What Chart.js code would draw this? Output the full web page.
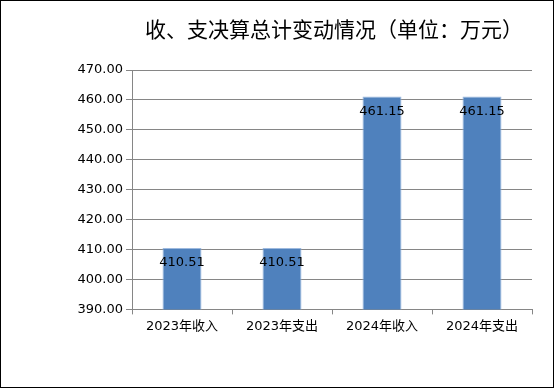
<!DOCTYPE html>
<html>
<head>
<meta charset="utf-8">
<script src="https://cdn.jsdelivr.net/npm/chart.js@4"></script>
<style>
  html, body { margin: 0; padding: 0; background: #fff; }
  #box { width: 552px; height: 386px; border: 1px solid #000; position: relative; }
  canvas { display: block; }
</style>
</head>
<body>
<div id="box"><canvas id="chart" width="552" height="386"></canvas></div>
<script>
const title = '收、支决算总计变动情况（单位：万元）';
const labels = ['2023年收入', '2023年支出', '2024年收入', '2024年支出'];
const amounts = [410.51, 410.51, 461.15, 461.15];
const yTicks = [390, 400, 410, 420, 430, 440, 450, 460, 470];

// 标题 + 柱内数值标签
const extras = {
  id: 'extras',
  afterDraw(chart) {
    const ctx = chart.ctx;
    ctx.save();
    ctx.font = '21px "Noto Sans CJK SC"';
    ctx.fillStyle = '#000';
    ctx.textAlign = 'center';
    ctx.textBaseline = 'middle';
    ctx.fillText(title, 333, 28);
    ctx.restore();
  },
  afterDatasetsDraw(chart) {
    const ctx = chart.ctx;
    const meta = chart.getDatasetMeta(0);
    ctx.save();
    ctx.font = '13px "DejaVu Sans", sans-serif';
    ctx.fillStyle = '#000';
    ctx.textAlign = 'center';
    ctx.textBaseline = 'middle';
    meta.data.forEach((bar, i) => {
      ctx.fillText(amounts[i].toFixed(2), bar.x, bar.y + 15);
    });
    ctx.restore();
  }
};

new Chart(document.getElementById('chart'), {
  type: 'bar',
  data: {
    labels: labels,
    datasets: [
      {
        data: amounts,
        backgroundColor: '#4F81BD',
        borderColor: '#9DB9DE',
        borderWidth: 1,
        categoryPercentage: 1,
        barPercentage: 0.39,
      },
    ],
  },
  options: {
    responsive: false,
    animation: false,
    layout: { padding: { left: 0, right: 21, top: 69, bottom: 49 } },
    plugins: {
      legend: { display: false },
      tooltip: { enabled: false },
      title: { display: false },
    },
    scales: {
      x: {
        grid: { display: true, drawOnChartArea: false, drawTicks: true, tickLength: 5, color: '#868686', offset: true },
        border: { color: '#868686' },
        ticks: { color: '#000', font: { family: '"DejaVu Sans", "Noto Sans CJK SC"', size: 13 }, padding: 4 },
      },
      y: {
        min: 390,
        max: 470,
        afterBuildTicks: (scale) => { scale.ticks = yTicks.map((v) => ({ value: v })); },
        afterFit: (scale) => { scale.width = 131; },
        grid: { color: '#868686', tickLength: 6 },
        border: { color: '#868686' },
        ticks: {
          color: '#000',
          font: { family: '"DejaVu Sans"', size: 13 },
          padding: 3,
          callback: (v) => v.toFixed(2),
        },
      },
    },
  },
  plugins: [extras],
});
</script>
</body>
</html>
